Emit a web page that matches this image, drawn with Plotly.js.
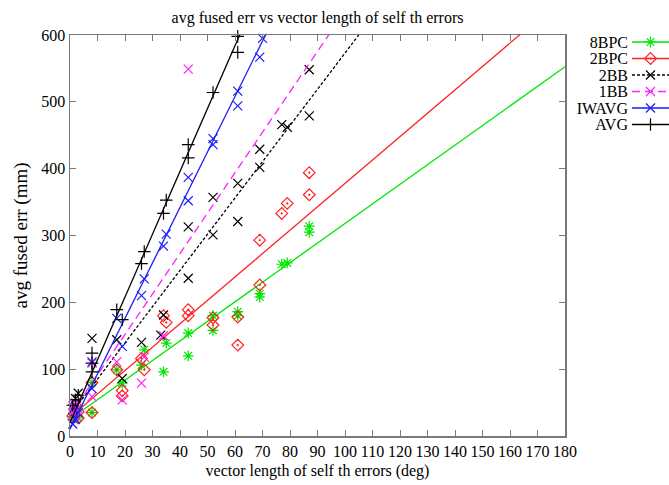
<!DOCTYPE html>
<html>
<head>
<meta charset="utf-8">
<script src="https://cdn.plot.ly/plotly-3.0.1.min.js"></script>
<style>html,body{margin:0;padding:0;background:#fff;}#chart{width:669px;height:485px;}</style>
</head>
<body>
<div id="chart"></div>
<script>
// ---- data ----
const seriesNames = ['8BPC', '2BPC', '2BB', '1BB', 'IWAVG', 'AVG'];

const x8BPC = [1, 2, 2, 3, 8, 8, 17, 19, 26, 27, 34, 35, 43, 43, 52, 52, 61, 61, 69, 69, 77, 79, 87, 87];
const y8BPC = [25, 40, 30, 27, 35, 80, 99, 79, 106, 129, 96, 139, 154, 120, 180, 158, 186, 180, 213, 208, 257, 259, 314, 305];

const x2BPC = [1, 2, 3, 3, 8, 8, 17, 19, 19, 26, 27, 34, 35, 43, 43, 52, 52, 61, 61, 69, 69, 77, 79, 87, 87];
const y2BPC = [30, 46, 27, 36, 35, 80, 99, 68, 60, 116, 99, 180, 170, 189, 180, 177, 166, 178, 136, 293, 226, 333, 348, 394, 361];

const x2BB = [1, 2, 3, 8, 17, 19, 26, 33, 34, 43, 43, 52, 52, 61, 61, 69, 69, 77, 79, 87, 87];
const y2BB = [40, 56, 64, 146, 144, 86, 140, 151, 181, 313, 236, 357, 301, 378, 321, 429, 402, 466, 462, 548, 479];

const x1BB = [1, 1, 2, 2, 3, 8, 8, 17, 19, 26, 27, 34, 43];
const y1BB = [45, 35, 50, 30, 40, 59, 109, 111, 54, 79, 118, 150, 549];

const xIWAVG = [1, 2, 2, 3, 8, 8, 17, 19, 26, 27, 34, 35, 43, 43, 52, 52, 61, 61, 69, 70];
const yIWAVG = [18, 25, 45, 35, 71, 111, 176, 134, 210, 235, 284, 302, 352, 387, 436, 445, 494, 516, 567, 595];

const xAVG = [1, 2, 3, 8, 8, 8, 17, 19, 26, 27, 34, 35, 43, 43, 52, 61, 61];
const yAVG = [46, 54, 61, 96, 109, 124, 189, 174, 258, 276, 333, 353, 416, 436, 514, 574, 598];

// fitted straight lines (intercept, slope)
const fitIntercept = [25, 28, 31, 31, 10, 20];
const fitSlope = [2.93, 3.5, 5.42, 6.05, 8.3, 9.4];
const fitXEnds = [0, 180];

const xTickVals = [0,10,20,30,40,50,60,70,80,90,100,110,120,130,140,150,160,170,180];
const yTickVals = [0,100,200,300,400,500,600];

// ---- styles ----
const colors = ['#00e600', '#ff2020', '#000000', '#ff20ff', '#1a1aff', '#000000'];
const symbols = ['asterisk-open', 'diamond-open-dot', 'x-thin-open', 'x-thin-open', 'x-thin-open', 'cross-thin-open'];
const dashes = ['solid', 'solid', '3px,2px', '8px,5px', 'solid', 'solid'];
const xs = [x8BPC, x2BPC, x2BB, x1BB, xIWAVG, xAVG];
const ys = [y8BPC, y2BPC, y2BB, y1BB, yIWAVG, yAVG];

const FONT = 'Liberation Serif, Times New Roman, serif';
const traces = [];

seriesNames.forEach((name, i) => {
  traces.push({
    type: 'scatter', mode: 'markers', x: xs[i], y: ys[i], name: name,
    xaxis: 'x', yaxis: 'y', cliponaxis: false, showlegend: false, hoverinfo: 'x+y',
    marker: {symbol: symbols[i], size: 9, color: colors[i], line: {color: colors[i], width: 1.2}}
  });
  traces.push({
    type: 'scatter', mode: 'lines', x: fitXEnds,
    y: fitXEnds.map(v => fitIntercept[i] + fitSlope[i] * v),
    xaxis: 'x', yaxis: 'y', showlegend: false, hoverinfo: 'skip',
    line: {color: colors[i], width: 1.3, dash: dashes[i]}
  });
  // legend sample (drawn on a small hidden axis pair)
  traces.push({
    type: 'scatter', mode: 'lines', x: [0, 1], y: [i, i],
    xaxis: 'x2', yaxis: 'y2', showlegend: false, hoverinfo: 'skip',
    line: {color: colors[i], width: 1.3, dash: dashes[i]}
  });
  traces.push({
    type: 'scatter', mode: 'markers', x: [0.5], y: [i],
    xaxis: 'x2', yaxis: 'y2', showlegend: false, hoverinfo: 'skip', cliponaxis: false,
    marker: {symbol: symbols[i], size: 9, color: colors[i], line: {color: colors[i], width: 1.2}}
  });
});

const frameColor = '#7a7a7a';
const layout = {
  width: 669, height: 485,
  margin: {l: 70, r: 0, t: 35, b: 49},
  paper_bgcolor: '#ffffff', plot_bgcolor: '#ffffff',
  showlegend: false,
  font: {family: FONT, size: 16, color: '#000'},
  title: {
    text: 'avg fused err vs vector length of self th errors',
    font: {family: FONT, size: 16, color: '#000'},
    xref: 'container', yref: 'container', x: 0.4746, y: 0.965, xanchor: 'center', yanchor: 'middle'
  },
  xaxis: {
    domain: [0, 0.8264], range: [0, 180], tickvals: xTickVals,
    ticks: 'inside', ticklen: 6, tickwidth: 1, tickcolor: frameColor,
    showline: true, linecolor: frameColor, linewidth: 1.5, mirror: 'ticks',
    showgrid: false, zeroline: false, anchor: 'y',
    tickfont: {family: FONT, size: 16, color: '#000'},
    title: {text: 'vector length of self th errors (deg)', font: {family: FONT, size: 16, color: '#000'}, standoff: 6}
  },
  yaxis: {
    range: [0, 600], tickvals: yTickVals,
    ticks: 'inside', ticklen: 6, tickwidth: 1, tickcolor: frameColor,
    showline: true, linecolor: frameColor, linewidth: 1.5, mirror: 'ticks',
    showgrid: false, zeroline: false, anchor: 'x',
    tickfont: {family: FONT, size: 16, color: '#000'},
    title: {text: 'avg fused err (mm)', font: {family: FONT, size: 19, color: '#000'}, standoff: 8}
  },
  xaxis2: {
    domain: [0.9382, 1], range: [0, 1], visible: false, anchor: 'y2', fixedrange: true
  },
  yaxis2: {
    domain: [0.7562, 1], range: [5.5, -0.424], anchor: 'x2',
    tickvals: seriesNames.map((n, i) => i), ticktext: seriesNames,
    ticks: '', showline: false, showgrid: false, zeroline: false, fixedrange: true,
    ticklabelstandoff: 3,
    tickfont: {family: FONT, size: 16, color: '#000'}
  }
};

Plotly.newPlot('chart', traces, layout, {displayModeBar: false, staticPlot: true});
</script>
</body>
</html>
